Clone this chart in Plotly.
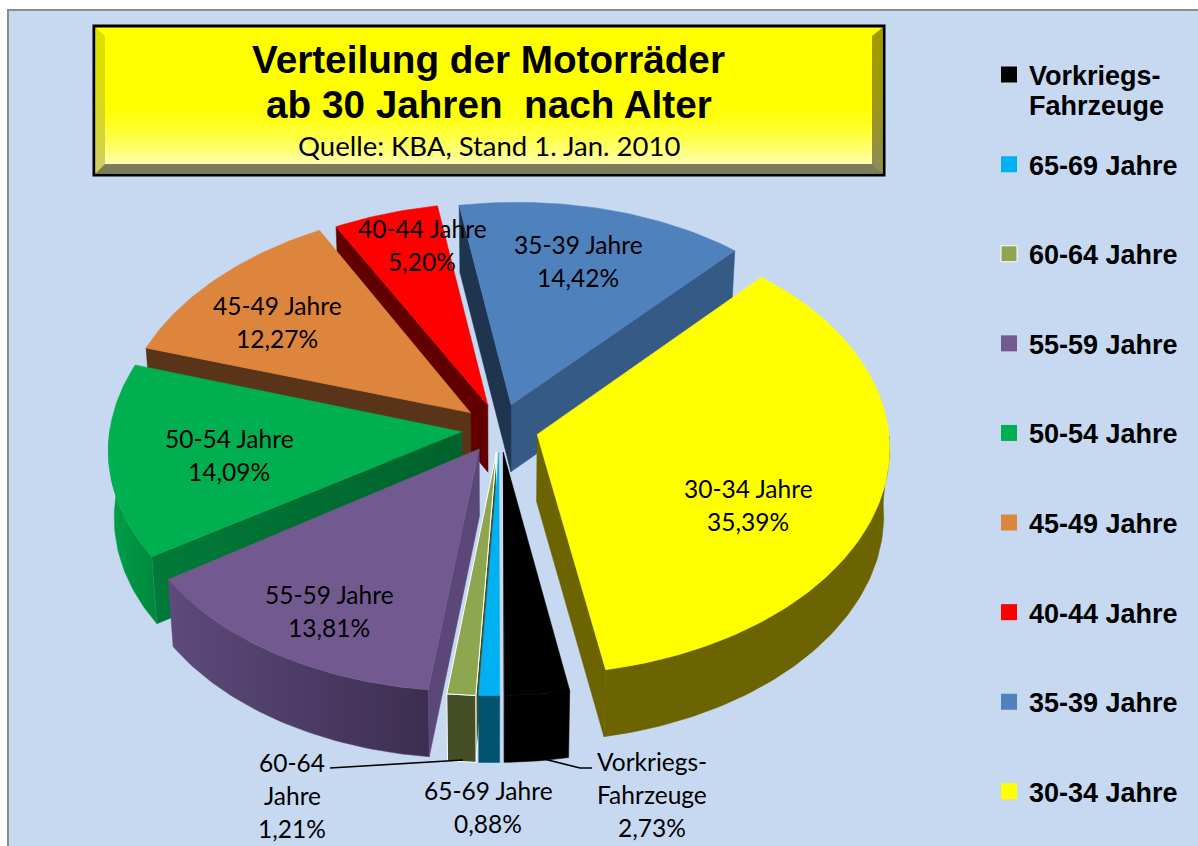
import math
import plotly.graph_objects as go

# ---- data -------------------------------------------------------------
categories = ["30-34 Jahre", "Vorkriegs-Fahrzeuge", "65-69 Jahre", "60-64 Jahre", "55-59 Jahre",
              "50-54 Jahre", "45-49 Jahre", "40-44 Jahre", "35-39 Jahre"]
values = [35.39, 2.73, 0.88, 1.21, 13.81, 14.09, 12.27, 5.20, 14.42]
legend_order = ["Vorkriegs-Fahrzeuge", "65-69 Jahre", "60-64 Jahre", "55-59 Jahre", "50-54 Jahre",
                "45-49 Jahre", "40-44 Jahre", "35-39 Jahre", "30-34 Jahre"]
top_colors = ["#ffff00", "#000000", "#00b0f0", "#8da64f", "#725a90", "#00b050", "#de853d", "#ff0000", "#4f81bd"]
# wall colours as (left, right) horizontal gradients
start_wall = [("#6b6400", "#6b6400"), ("#000000", "#000000"), ("#005470", "#005470"), ("#444f25", "#444f25"),
              ("#5b4878", "#5b4878"), ("#007a38", "#00622c"), ("#5a3418", "#5a3418"), ("#620000", "#620000"),
              ("#1f344f", "#1f344f")]
end_wall = [("#6b6400", "#6b6400"), ("#000000", "#000000"), ("#005470", "#005470"), ("#444f25", "#444f25"),
            ("#5b4878", "#5b4878"), ("#00652e", "#00652e"), ("#5a3418", "#5a3418"), ("#620000", "#620000"),
            ("#355a85", "#355a85")]
outer_wall = [("#6b6400", "#6b6400"), ("#000000", "#000000"), ("#005470", "#005470"), ("#444f25", "#444f25"),
              ("#5e4a7c", "#3c2e50"), ("#00a048", "#00873d"), ("#5a3418", "#5a3418"), ("#5a0000", "#5a0000"),
              ("#355a85", "#355a85")]
draw_order = ["35-39 Jahre", "40-44 Jahre", "45-49 Jahre", "50-54 Jahre", "55-59 Jahre", "30-34 Jahre",
              "60-64 Jahre", "65-69 Jahre", "Vorkriegs-Fahrzeuge"]
# label lines, centre x, first line y
label_lines = {
    "30-34 Jahre": (["30-34 Jahre"], 748, 488),
    "35-39 Jahre": (["35-39 Jahre"], 578, 244),
    "40-44 Jahre": (["40-44 Jahre"], 422, 228),
    "45-49 Jahre": (["45-49 Jahre"], 277, 305),
    "50-54 Jahre": (["50-54 Jahre"], 229, 438),
    "55-59 Jahre": (["55-59 Jahre"], 329, 594),
    "60-64 Jahre": (["60-64", "Jahre"], 292, 762),
    "65-69 Jahre": (["65-69 Jahre"], 488, 790),
    "Vorkriegs-Fahrzeuge": (["Vorkriegs-", "Fahrzeuge"], 652, 761),
}

# ---- pie geometry ------------------------------------------------------
START_ANGLE = 41.6
EXPLODE = 0.11
CX, CY, RX, RY, PERSP, DEPTH, BOTTOM_SCALE, SHEAR = 500, 428, 351, 221, 0.075, 67, 0.985, 7
SLICE_DY = {"50-54 Jahre": -4, "45-49 Jahre": -3}


def project(u, v, bottom=False, dy=0):
    s = 1 / (1 - PERSP * v)
    x = CX + RX * u * s
    y = CY + RY * v * s + dy
    if bottom:
        x = CX + (x - CX) * BOTTOM_SCALE
        y += DEPTH
    return x - SHEAR * v, y


fig = go.Figure()


def poly(pts, colors, line=None):
    xs = [p[0] for p in pts] + [pts[0][0]]
    ys = [p[1] for p in pts] + [pts[0][1]]
    kw = {}
    if colors[0] != colors[1]:
        kw["fillgradient"] = dict(type="horizontal", colorscale=[[0, colors[0]], [1, colors[1]]])
    else:
        kw["fillcolor"] = colors[0]
    fig.add_trace(go.Scatter(x=xs, y=ys, mode="lines", fill="toself", hoverinfo="skip", showlegend=False,
                             line=dict(color=line or colors[0], width=1 if line else 0.5), **kw))


total = sum(values)
spans = {}
a = START_ANGLE
for name, val in zip(categories, values):
    spans[name] = (a, a + val / total * 360)
    a = spans[name][1]

for name in draw_order:
    i = categories.index(name)
    a0, a1 = spans[name]
    dy = SLICE_DY.get(name, 0)
    mid = math.radians((a0 + a1) / 2)
    ou, ov = EXPLODE * math.sin(mid), -EXPLODE * math.cos(mid)
    n = max(2, int(a1 - a0) + 1)
    angles = [a0 + (a1 - a0) * k / n for k in range(n + 1)]
    arc = [(ou + math.sin(math.radians(t)), ov - math.cos(math.radians(t))) for t in angles]
    top_arc = [project(u, v, dy=dy) for u, v in arc]
    bot_arc = [project(u, v, True, dy=dy) for u, v in arc]
    apex_t, apex_b = project(ou, ov), project(ou, ov, True)
    edge = "#ffffff" if name == "60-64 Jahre" else None
    # only the walls that face the viewer
    if math.sin(math.radians(a1)) > 0:
        poly([apex_t, top_arc[-1], bot_arc[-1], apex_b], end_wall[i], line=edge)
    if math.sin(math.radians(a0)) < 0:
        poly([apex_t, top_arc[0], bot_arc[0], apex_b], start_wall[i], line=edge)
    front = [k for k, t in enumerate(angles) if math.cos(math.radians(t)) <= 0]
    if len(front) > 1:
        poly([top_arc[k] for k in front] + [bot_arc[k] for k in front[::-1]], outer_wall[i], line=edge)
    poly([apex_t] + top_arc, (top_colors[i], top_colors[i]), line=edge)

# ---- leader lines --------------------------------------------------------
leader_x = [[330, 463], [540, 580, 592]]
leader_y = [[768, 760], [758, 768, 768]]
for lx, ly in zip(leader_x, leader_y):
    fig.add_trace(go.Scatter(x=lx, y=ly, mode="lines", line=dict(color="#000000", width=1.6),
                             hoverinfo="skip", showlegend=False))

# ---- legend --------------------------------------------------------------
for name in legend_order:
    i = categories.index(name)
    label = name.replace("-Fahrzeuge", "-")
    fig.add_trace(go.Scatter(x=[None], y=[None], mode="markers", name=f"<b>{label}</b>", legendgroup=name,
                             marker=dict(symbol="square", size=16, color=top_colors[i],
                                         line=dict(color="#ffffff", width=1 if name == "60-64 Jahre" else 0))))

# ---- text ----------------------------------------------------------------
LABEL_FONT = "Lato, Carlito, Calibri, sans-serif"
LINE_STEP = 33.3
annotations = []


def text(x, y, s, size, family=LABEL_FONT, bold=False, anchor="center"):
    annotations.append(dict(x=x, y=y, xref="x", yref="y", text=f"<b>{s}</b>" if bold else s, showarrow=False,
                            xanchor=anchor, yanchor="middle", xshift=0,
                            font=dict(family=family, size=size, color="#000000")))


for name, val in zip(categories, values):
    lines, x, y = label_lines[name]
    pct = f"{val:.2f}%".replace(".", ",")
    for k, s in enumerate(lines + [pct]):
        text(x, y + k * LINE_STEP, s, 24.5)

TITLE_FONT = "Liberation Sans, Arial, sans-serif"
text(488, 59, "Verteilung der Motorräder", 38.7, TITLE_FONT, True)
text(489, 104, "ab 30 Jahren  nach Alter", 38.7, TITLE_FONT, True)
text(489, 145, "Quelle: KBA, Stand 1. Jan. 2010", 27.5)
text(1027, 106, "Fahrzeuge", 27, TITLE_FONT, True, anchor="left")

# ---- background and title box -------------------------------------------
shapes = [dict(type="rect", x0=8, y0=10, x1=1210, y1=860, layer="below", fillcolor="#c6d9f1",
               line=dict(color="#8c8c8c", width=2))]
BOX = (94, 26, 884, 175)
INNER = (105, 36, 872, 164)
shapes.append(dict(type="rect", x0=BOX[0], y0=BOX[1], x1=BOX[2], y1=BOX[3], layer="below", fillcolor="#ffff00",
                   line=dict(color="#000000", width=3)))
bands = 20
for b in range(bands):
    t = b / (bands - 1)
    blue = int(170 * t ** 1.6)
    y0 = 100 + (INNER[3] - 100) * b / bands
    y1 = 100 + (INNER[3] - 100) * (b + 1) / bands
    shapes.append(dict(type="rect", x0=INNER[0], x1=INNER[2], y0=y0, y1=y1 + 0.5, layer="below",
                       fillcolor=f"rgb(255,255,{blue})", line=dict(width=0)))


def trap(pts, color):
    path = "M" + " L".join(f"{x},{y}" for x, y in pts) + " Z"
    return dict(type="path", path=path, layer="below", fillcolor=color, line=dict(width=0))


def mix(c0, c1, t):
    return "rgb(" + ",".join(str(int(p + (q - p) * t)) for p, q in zip(c0, c1)) + ")"


L, T, R, B = BOX[0] + 1.5, BOX[1] + 1.5, BOX[2] - 1.5, BOX[3] - 1.5
IL, IT, IR, IB = INNER[0], INNER[1], INNER[2], INNER[3]
side_bands = 16
for b in range(side_bands):
    f0, f1 = b / side_bands, (b + 1) / side_bands
    t = f0
    yo0, yo1 = T + (B - T) * f0, T + (B - T) * f1
    yi0, yi1 = IT + (IB - IT) * f0, IT + (IB - IT) * f1
    shapes.append(trap([(L, yo0), (IL, yi0), (IL, yi1 + 0.4), (L, yo1 + 0.4)],
                       mix((222, 222, 0), (205, 205, 110), t ** 2)))
    shapes.append(trap([(R, yo0), (IR, yi0), (IR, yi1 + 0.4), (R, yo1 + 0.4)],
                       mix((160, 156, 0), (140, 138, 96), t ** 2)))
shapes.append(trap([(L, B), (IL, IB), (IR, IB), (R, B)], "#7b7b5e"))

fig.update_layout(
    width=1198, height=846, margin=dict(l=0, r=0, t=0, b=0, pad=0),
    paper_bgcolor="#ffffff", plot_bgcolor="rgba(0,0,0,0)",
    xaxis=dict(range=[0, 1198], visible=False, fixedrange=True),
    yaxis=dict(range=[846, 0], visible=False, fixedrange=True),
    shapes=shapes, annotations=annotations,
    legend=dict(x=989 / 1198, y=1 - 50.5 / 846, xanchor="left", yanchor="top", bgcolor="rgba(0,0,0,0)",
                font=dict(family=TITLE_FONT, size=27, color="#000000"),
                tracegroupgap=51.5, itemwidth=30, traceorder="grouped", itemclick=False, itemdoubleclick=False),
    hovermode=False,
)

fig.write_html("out.html", config={"displayModeBar": False},
               post_script="document.body.style.margin='0';document.documentElement.style.overflow='hidden';")
